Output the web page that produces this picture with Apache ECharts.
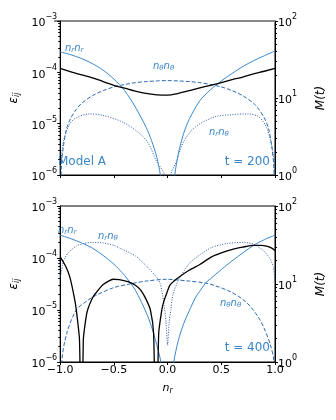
<!DOCTYPE html>
<html>
<head>
<meta charset="utf-8">
<script src="https://cdn.jsdelivr.net/npm/echarts@6/dist/echarts.min.js"></script>
<style>
html, body { margin: 0; padding: 0; background: #fff; }
#chart { width: 336px; height: 420px; }
</style>
</head>
<body>
<div id="chart"></div>
<script>
// ---- t = 200 panel ----
var top_rr_x = [-1, -0.9, -0.8, -0.7, -0.6, -0.5, -0.4, -0.3, -0.2, -0.15, -0.1, -0.068, -0.04, 0.04, 0.067, 0.1, 0.15, 0.2, 0.3, 0.4, 0.5, 0.6, 0.7, 0.8, 0.9, 1];
var top_rr_y = [2.5e-4, 2.2e-4, 1.85e-4, 1.48e-4, 1.1e-4, 7.4e-5, 4.4e-5, 2.1e-5, 8.5e-6, 4.7e-6, 2.2e-6, 1e-6, 2.5e-7, 2.5e-7, 1e-6, 2.6e-6, 6.5e-6, 1.2e-5, 2.8e-5, 4.6e-5, 6.8e-5, 9.5e-5, 1.3e-4, 1.68e-4, 2.1e-4, 2.6e-4];

var top_tt_x = [-1, -0.99, -0.97, -0.94, -0.9, -0.85, -0.8, -0.7, -0.6, -0.5, -0.4, -0.3, -0.2, -0.1, 0, 0.1, 0.2, 0.3, 0.4, 0.5, 0.6, 0.7, 0.8, 0.85, 0.9, 0.94, 0.97, 0.99, 1];
var top_tt_y = [1e-8, 1.3e-6, 3.6e-6, 8e-6, 1.3e-5, 1.9e-5, 2.5e-5, 3.5e-5, 4.4e-5, 5.2e-5, 5.8e-5, 6.3e-5, 6.6e-5, 6.8e-5, 6.9e-5, 6.8e-5, 6.6e-5, 6.3e-5, 5.8e-5, 5.2e-5, 4.4e-5, 3.5e-5, 2.5e-5, 1.9e-5, 1.3e-5, 8e-6, 3.6e-6, 1.3e-6, 1e-8];

var top_rt_x = [-1, -0.97, -0.91, -0.85, -0.73, -0.6, -0.43, -0.3, -0.19, -0.1, -0.03, 0, 0.03, 0.08, 0.15, 0.26, 0.44, 0.6, 0.75, 0.85, 0.925, 0.985, 1];
var top_rt_y = [1.2e-6, 4.5e-6, 1.0e-5, 1.3e-5, 1.55e-5, 1.45e-5, 1.1e-5, 7.5e-6, 4.5e-6, 1.8e-6, 1e-6, 1e-8, 1e-6, 1.8e-6, 4.5e-6, 8.7e-6, 1.36e-5, 1.5e-5, 1.55e-5, 1.35e-5, 8.1e-6, 2.5e-6, 1e-6];

var top_m_x = [-1, -0.9, -0.8, -0.7, -0.6, -0.5, -0.4, -0.3, -0.2, -0.1, 0, 0.1, 0.2, 0.3, 0.4, 0.5, 0.6, 0.7, 0.8, 0.9, 1];
var top_m_y = [1.19e-4, 1.02e-4, 8.9e-5, 7.8e-5, 6.6e-5, 5.6e-5, 4.9e-5, 4.3e-5, 3.9e-5, 3.65e-5, 3.6e-5, 3.9e-5, 4.4e-5, 5.0e-5, 5.6e-5, 6.3e-5, 7.2e-5, 8.1e-5, 9.3e-5, 1.05e-4, 1.19e-4];

// ---- t = 400 panel ----
var bot_rr_x = [-1, -0.9, -0.8, -0.7, -0.6, -0.5, -0.4, -0.3, -0.2, -0.15, -0.1, -0.063, -0.04, 0.035, 0.058, 0.1, 0.15, 0.2, 0.262, 0.3, 0.353, 0.4, 0.5, 0.6, 0.7, 0.8, 0.9, 1];
var bot_rr_y = [2.75e-4, 2.35e-4, 1.95e-4, 1.55e-4, 1.12e-4, 7.6e-5, 4.6e-5, 2.4e-5, 9e-6, 4.8e-6, 2.1e-6, 1e-6, 3e-7, 3e-7, 1e-6, 2.6e-6, 5.5e-6, 9.5e-6, 1.78e-5, 2.3e-5, 3.3e-5, 4.0e-5, 6e-5, 8.8e-5, 1.25e-4, 1.75e-4, 2.25e-4, 2.75e-4];

var bot_tt_x = [-1, -0.985, -0.94, -0.85, -0.75, -0.67, -0.5, -0.34, -0.2, 0, 0.08, 0.2, 0.353, 0.45, 0.594, 0.7, 0.774, 0.85, 0.894, 0.955, 0.99, 1];
var bot_tt_y = [1e-8, 1e-6, 3.5e-6, 1e-5, 1.5e-5, 1.9e-5, 2.7e-5, 3.2e-5, 3.6e-5, 3.9e-5, 3.8e-5, 3.6e-5, 3.3e-5, 2.9e-5, 2.2e-5, 1.6e-5, 1.15e-5, 7e-6, 4.7e-6, 2.2e-6, 1e-6, 1e-8];

var bot_rt_x = [-1, -0.98, -0.96, -0.92, -0.85, -0.78, -0.7, -0.6, -0.5, -0.43, -0.3, -0.19, -0.1, -0.068, -0.038, -0.015, 0, 0.015, 0.03, 0.05, 0.1, 0.2, 0.3, 0.41, 0.55, 0.71, 0.8, 0.89, 0.95, 0.985, 1];
var bot_rt_y = [4e-5, 7e-5, 9.8e-5, 1.3e-4, 1.7e-4, 1.9e-4, 2.0e-4, 1.95e-4, 1.75e-4, 1.5e-4, 1.1e-4, 6.8e-5, 4.2e-5, 3.2e-5, 1.5e-5, 6e-6, 2.1e-6, 6e-6, 1e-5, 2e-5, 3.7e-5, 7.8e-5, 1.15e-4, 1.6e-4, 1.9e-4, 2.0e-4, 1.85e-4, 1.4e-4, 1e-4, 6.7e-5, 3.4e-5];

var bot_m_x = [-1, -0.95, -0.91, -0.87, -0.85, -0.82, -0.803, -0.785, -0.765, -0.745, -0.7, -0.67, -0.6, -0.505, -0.45, -0.37, -0.3, -0.25, -0.2, -0.16, -0.13, -0.107, -0.083, -0.054, -0.038, -0.008, 0.022, 0.08, 0.2, 0.3, 0.41, 0.5, 0.62, 0.7, 0.8, 0.87, 0.92, 0.97, 1];
var bot_m_y = [1.05e-4, 7e-5, 4.3e-5, 1.8e-5, 1e-5, 2.6e-6, 1e-8, 2.6e-6, 6e-6, 1e-5, 1.7e-5, 2.1e-5, 3.1e-5, 3.9e-5, 3.85e-5, 3.5e-5, 3e-5, 2.4e-5, 1.6e-5, 1e-5, 3.5e-6, 1e-8, 3.5e-6, 1e-5, 1.4e-5, 2.1e-5, 3e-5, 3.9e-5, 5.8e-5, 7.5e-5, 1.05e-4, 1.25e-4, 1.5e-4, 1.62e-4, 1.75e-4, 1.75e-4, 1.7e-4, 1.55e-4, 1.4e-4];

var BLUE = '#3a88cc';
var BLUE_DASH = '#2c6cb0';
var BLUE_DOT = '#2c5d9e';
var TXT_BLUE = '#3a86c8';
var FONT = 'DejaVu Sans';

function pairs(xs, ys) {
    return xs.map(function (x, i) { return [x, ys[i]]; });
}

function powLabel(v) {
    var e = Math.round(Math.log10(v));
    return '{b|10}{s|' + (e < 0 ? '\u2212' + (-e) : e) + '}';
}

var powRich = {
    b: { fontSize: 11, color: '#000', fontFamily: FONT, lineHeight: 16, verticalAlign: 'bottom' },
    s: { fontSize: 8, color: '#000', fontFamily: FONT, lineHeight: 16, verticalAlign: 'top' }
};

function makeX(grid, showLabels) {
    return {
        type: 'value', gridIndex: grid, min: -1, max: 1, interval: 0.5,
        axisLine: { show: true, onZero: false, lineStyle: { color: '#000' } },
        axisTick: { show: true, length: 3, lineStyle: { color: '#000' } },
        splitLine: { show: false },
        axisLabel: {
            show: showLabels, margin: 3, fontSize: 11, color: '#000', fontFamily: FONT,
            formatter: function (v) { return (v < 0 ? '\u2212' : '') + Math.abs(v).toFixed(1); }
        },
        name: showLabels ? '{i|n}{s|r}' : '',
        nameLocation: 'middle', nameGap: 20,
        nameTextStyle: {
            rich: {
                i: { fontSize: 11, fontStyle: 'italic', fontFamily: FONT, color: '#000' },
                s: { fontSize: 8, fontStyle: 'italic', fontFamily: FONT, color: '#000', padding: [5, 0, 0, 0] }
            }
        }
    };
}

function makeYLeft(grid) {
    return {
        type: 'log', gridIndex: grid, logBase: 10, min: 1e-6, max: 1e-3, position: 'left',
        axisLine: { show: true, onZero: false, lineStyle: { color: '#000' } },
        axisTick: { show: true, length: 3, lineStyle: { color: '#000' } },
        minorTick: { show: true, splitNumber: 9, length: 2, lineStyle: { color: '#000' } },
        splitLine: { show: false },
        axisLabel: { margin: 3, formatter: powLabel, rich: powRich },
        name: '{e|\u03b5}{s|ij}',
        nameLocation: 'middle', nameRotate: 90, nameGap: 38,
        nameTextStyle: {
            rich: {
                e: { fontSize: 12, fontStyle: 'italic', fontFamily: FONT, color: '#000' },
                s: { fontSize: 8, fontStyle: 'italic', fontFamily: FONT, color: '#000', padding: [5, 0, 0, 0] }
            }
        }
    };
}

function makeYRight(grid) {
    return {
        type: 'log', gridIndex: grid, logBase: 10, min: 1, max: 100, position: 'right',
        axisLine: { show: true, onZero: false, lineStyle: { color: '#000' } },
        axisTick: { show: true, length: 3, lineStyle: { color: '#000' } },
        minorTick: { show: true, splitNumber: 9, length: 2, lineStyle: { color: '#000' } },
        splitLine: { show: false },
        axisLabel: { margin: 3, formatter: powLabel, rich: powRich },
        name: 'M(t)',
        nameLocation: 'middle', nameRotate: 90, nameGap: 40,
        nameTextStyle: { fontSize: 12, fontStyle: 'italic', fontFamily: FONT, color: '#000' }
    };
}

function line(xi, yi, xs, ys, color, width, type, smooth) {
    return {
        type: 'line', xAxisIndex: xi, yAxisIndex: yi,
        data: pairs(xs, ys), showSymbol: false, smooth: smooth, clip: true,
        lineStyle: { color: color, width: width, type: type },
        silent: true, animation: false
    };
}

function label(left, top, parts) {
    return {
        type: 'text', left: left, top: top,
        style: {
            text: parts,
            rich: {
                i: { fontSize: 10, fontStyle: 'italic', fontFamily: FONT, fill: TXT_BLUE },
                s: { fontSize: 7, fontStyle: 'italic', fontFamily: FONT, fill: TXT_BLUE, padding: [4, 0, 0, 0] }
            }
        }
    };
}

function plain(left, top, text, align) {
    return {
        type: 'text', left: align === 'right' ? null : left, right: align === 'right' ? left : null, top: top,
        style: { text: text, fontSize: 12, fontFamily: FONT, fill: TXT_BLUE }
    };
}

var chart = echarts.init(document.getElementById('chart'), null, { renderer: 'canvas' });

var option = {
    animation: false,
    backgroundColor: '#fff',
    grid: [
        { left: 54, top: 21, width: 221, height: 154, show: true, borderColor: '#000', borderWidth: 1 },
        { left: 54, top: 206, width: 221, height: 156, show: true, borderColor: '#000', borderWidth: 1 }
    ],
    xAxis: [makeX(0, false), makeX(1, true)],
    yAxis: [makeYLeft(0), makeYRight(0), makeYLeft(1), makeYRight(1)],
    series: [
        line(0, 0, top_tt_x, top_tt_y, BLUE_DASH, 1, [4, 2], 0.3),
        line(0, 0, top_rt_x, top_rt_y, BLUE_DOT, 1, [1, 1.5], 0.3),
        line(0, 0, top_rr_x, top_rr_y, BLUE, 1, 'solid', 0.3),
        line(0, 0, top_m_x, top_m_y, '#000', 1.3, 'solid', 0.5),
        line(1, 2, bot_tt_x, bot_tt_y, BLUE_DASH, 1, [4, 2], 0.3),
        line(1, 2, bot_rt_x, bot_rt_y, BLUE_DOT, 1, [1, 1.5], 0.2),
        line(1, 2, bot_rr_x, bot_rr_y, BLUE, 1, 'solid', 0.3),
        line(1, 2, bot_m_x, bot_m_y, '#000', 1.3, 'solid', 0.2)
    ],
    graphic: [
        { type: 'line', shape: { x1: 54, y1: 21, x2: 275, y2: 21 }, style: { stroke: '#888', lineWidth: 2 } },
        label(65, 43, '{i|n}{s|r}{i|n}{s|r}'),
        label(153, 61, '{i|n}{s|\u03b8}{i|n}{s|\u03b8}'),
        label(209, 127, '{i|n}{s|r}{i|n}{s|\u03b8}'),
        plain(58, 156, 'Model A'),
        plain(66, 156, 't = 200', 'right'),
        label(58, 225, '{i|n}{s|r}{i|n}{s|r}'),
        label(98, 231, '{i|n}{s|r}{i|n}{s|\u03b8}'),
        label(220, 298, '{i|n}{s|\u03b8}{i|n}{s|\u03b8}'),
        plain(66, 342, 't = 400', 'right')
    ]
};

chart.setOption(option);
</script>
</body>
</html>
